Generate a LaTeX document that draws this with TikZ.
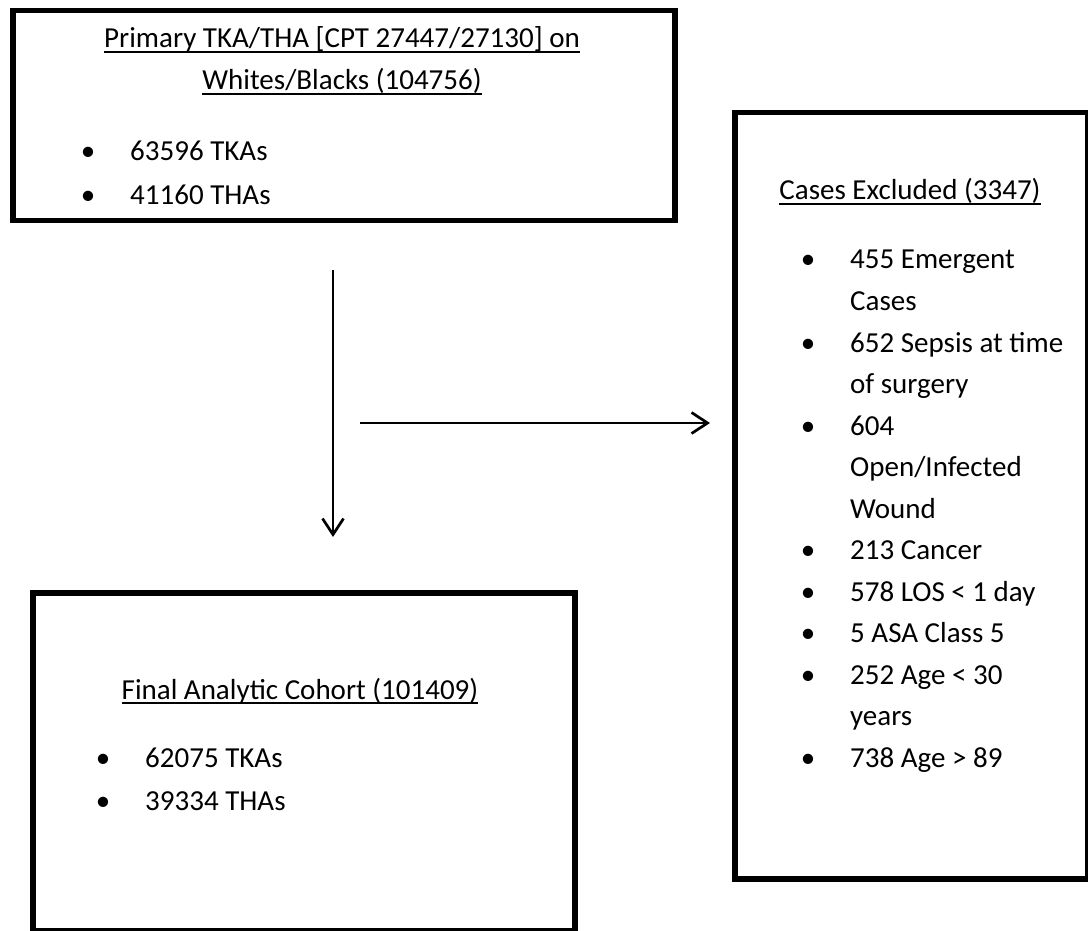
\documentclass[tikz,border=0pt]{standalone}
\usepackage{fontspec}
\setmainfont{Carlito}
\usetikzlibrary{arrows.meta}
\newcommand\myul[1]{\setbox0\hbox{#1}\rlap{\rule[-5pt]{\wd0}{1.6pt}}\box0}
\tikzset{
  box/.style={draw=black, line width=5.5pt, rectangle, inner sep=0pt, fill=white},
  txt/.style={anchor=base west, inner sep=0pt, font=\fontsize{29}{41.5}\selectfont},
  ttl/.style={anchor=base, inner sep=0pt, font=\fontsize{29}{41.5}\selectfont},
  bul/.style={anchor=base, inner sep=0pt, font=\fontsize{29}{41.5}\selectfont},
  flow/.style={line width=2.7pt, -{Straight Barb[length=16pt,width=21pt,line width=2.7pt]}}
}
\begin{document}
\begin{tikzpicture}[x=1pt,y=-1pt]
\useasboundingbox[fill=white] (0,0) rectangle (1088,931);
% boxes
\node[box, minimum width=662pt, minimum height=210pt, anchor=north west] (topbox) at (10,8) {};
\node[box, minimum width=353pt, minimum height=766pt, anchor=north west] (rightbox) at (732,110) {};
\node[box, minimum width=542pt, minimum height=338pt, anchor=north west] (botbox) at (30,590) {};
% top box text
\node[ttl] (t1) at (342,48) {\myul{Primary TKA/THA [CPT 27447/27130] on}};
\node[ttl] (t2) at (342,90) {\myul{Whites/Blacks (104756)}};
\node[bul] (tb1) at (88,161) {\textbullet};
\node[txt] (tt1) at (130,161) {63596 TKAs};
\node[bul] (tb2) at (88,205) {\textbullet};
\node[txt] (tt2) at (130,205) {41160 THAs};
% right box text
\node[ttl] (r0) at (910,200) {\myul{Cases Excluded (3347)}};
\node[bul] (rb1) at (808,269) {\textbullet};
\node[txt] (r1) at (850,269) {455 Emergent};
\node[txt] (r1b) at (850,310.5) {Cases};
\node[bul] (rb2) at (808,352) {\textbullet};
\node[txt] (r2) at (850,352) {652 Sepsis at time};
\node[txt] (r2b) at (850,393.5) {of surgery};
\node[bul] (rb3) at (808,435) {\textbullet};
\node[txt] (r3) at (850,435) {604};
\node[txt] (r3b) at (850,476.5) {Open/Infected};
\node[txt] (r3c) at (850,518) {Wound};
\node[bul] (rb4) at (808,559.5) {\textbullet};
\node[txt] (r4) at (850,559.5) {213 Cancer};
\node[bul] (rb5) at (808,601) {\textbullet};
\node[txt] (r5) at (850,601) {578 LOS < 1 day};
\node[bul] (rb6) at (808,642.5) {\textbullet};
\node[txt] (r6) at (850,642.5) {5 ASA Class 5};
\node[bul] (rb7) at (808,684) {\textbullet};
\node[txt] (r7) at (850,684) {252 Age < 30};
\node[txt] (r7b) at (850,725.5) {years};
\node[bul] (rb8) at (808,767) {\textbullet};
\node[txt] (r8) at (850,767) {738 Age > 89};
% bottom box text
\node[ttl] (b0) at (300,699) {\myul{Final Analytic Cohort (101409)}};
\node[bul] (bb1) at (103,767) {\textbullet};
\node[txt] (b1) at (145,767) {62075 TKAs};
\node[bul] (bb2) at (103,810) {\textbullet};
\node[txt] (b2) at (145,810) {39334 THAs};
% arrows
\coordinate (v1) at (333,270);
\coordinate (v2) at (333,537);
\coordinate (h1) at (360,423);
\coordinate (h2) at (710,423);
\draw[flow] (v1) -- (v2);
\draw[flow] (h1) -- (h2);
\end{tikzpicture}
\end{document}
